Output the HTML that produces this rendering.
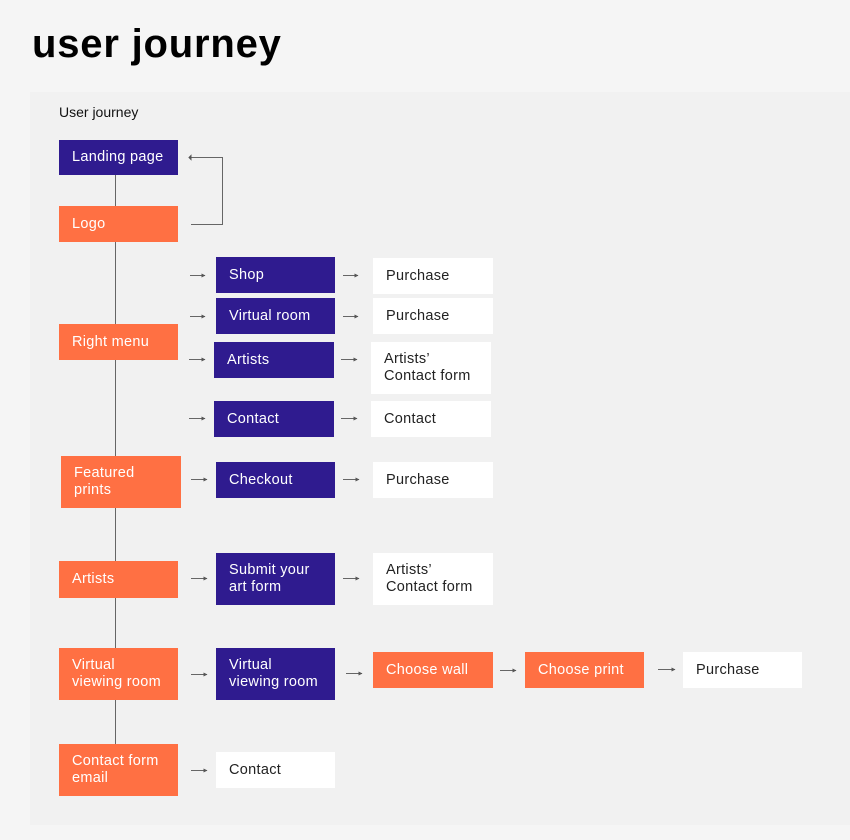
<!DOCTYPE html>
<html><head><meta charset="utf-8"><style>
body{margin:0;width:850px;height:840px;background:#f5f5f5;position:relative;overflow:hidden;font-family:"Liberation Sans",sans-serif;}
h1{position:absolute;left:32px;top:22px;margin:0;font-size:40px;font-weight:bold;color:#000;letter-spacing:0.8px;}
.panel{position:absolute;left:30px;top:92px;width:820px;height:733px;background:#f1f1f1;}
.lbl{position:absolute;left:59px;top:104px;font-size:14px;color:#111;}
.b{position:absolute;box-sizing:border-box;padding-left:13px;display:flex;align-items:center;font-size:14.5px;line-height:17px;letter-spacing:0.3px;}
.p{background:#2f1b8f;color:#fff;}
.o{background:#ff7043;color:#fff;}
.w{background:#fff;color:#222;}
svg{position:absolute;left:0;top:0;}
</style></head><body>
<h1>user journey</h1>
<div class="panel"></div>
<div class="lbl">User journey</div>
<svg width="850" height="840">
<defs><marker id="a" markerWidth="4" markerHeight="4" refX="3.5" refY="2" orient="auto" markerUnits="userSpaceOnUse"><path d="M0,0 L4,2 L0,4Z" fill="#555"/></marker></defs>
<g stroke="#666" stroke-width="1" fill="none">
<line x1="115.5" y1="175" x2="115.5" y2="745"/>
<polyline points="191,157.5 222.5,157.5 222.5,224.5 191,224.5"/>
</g>
<g stroke="#555" stroke-width="1" fill="#555">
<path d="M191 155.5 L191 159.5 L189 157.5Z"/>
</g>
<g stroke="#666" stroke-width="1" marker-end="url(#a)">
<line x1="190" y1="275.5" x2="205" y2="275.5"/><line x1="190" y1="316.5" x2="205" y2="316.5"/>
<line x1="189" y1="359.5" x2="205" y2="359.5"/><line x1="189" y1="418.5" x2="205" y2="418.5"/>
<line x1="191" y1="479.5" x2="207" y2="479.5"/><line x1="191" y1="578.5" x2="207" y2="578.5"/>
<line x1="191" y1="674.5" x2="207" y2="674.5"/><line x1="191" y1="770.5" x2="207" y2="770.5"/>
<line x1="343" y1="275.5" x2="358" y2="275.5"/><line x1="343" y1="316.5" x2="358" y2="316.5"/>
<line x1="341" y1="359.5" x2="357" y2="359.5"/><line x1="341" y1="418.5" x2="357" y2="418.5"/>
<line x1="343" y1="479.5" x2="359" y2="479.5"/><line x1="343" y1="578.5" x2="359" y2="578.5"/>
<line x1="346" y1="673.5" x2="362" y2="673.5"/><line x1="500" y1="670.5" x2="516" y2="670.5"/>
<line x1="658" y1="669.5" x2="675" y2="669.5"/>
</g>
</svg>
<div class="b p" style="left:59px;top:140px;width:119px;height:35px">Landing page</div>
<div class="b o" style="left:59px;top:206px;width:119px;height:36px">Logo</div>
<div class="b p" style="left:216px;top:257px;width:119px;height:36px">Shop</div>
<div class="b w" style="left:373px;top:258px;width:120px;height:36px">Purchase</div>
<div class="b p" style="left:216px;top:298px;width:119px;height:36px">Virtual room</div>
<div class="b w" style="left:373px;top:298px;width:120px;height:36px">Purchase</div>
<div class="b o" style="left:59px;top:324px;width:119px;height:36px">Right menu</div>
<div class="b p" style="left:214px;top:342px;width:120px;height:36px">Artists</div>
<div class="b w" style="left:371px;top:342px;width:120px;height:52px">Artists’<br>Contact form</div>
<div class="b p" style="left:214px;top:401px;width:120px;height:36px">Contact</div>
<div class="b w" style="left:371px;top:401px;width:120px;height:36px">Contact</div>
<div class="b o" style="left:61px;top:456px;width:120px;height:52px">Featured<br>prints</div>
<div class="b p" style="left:216px;top:462px;width:119px;height:36px">Checkout</div>
<div class="b w" style="left:373px;top:462px;width:120px;height:36px">Purchase</div>
<div class="b p" style="left:216px;top:553px;width:119px;height:52px">Submit your<br>art form</div>
<div class="b w" style="left:373px;top:553px;width:120px;height:52px">Artists’<br>Contact form</div>
<div class="b o" style="left:59px;top:561px;width:119px;height:37px">Artists</div>
<div class="b o" style="left:59px;top:648px;width:119px;height:52px">Virtual<br>viewing room</div>
<div class="b p" style="left:216px;top:648px;width:119px;height:52px">Virtual<br>viewing room</div>
<div class="b o" style="left:373px;top:652px;width:120px;height:36px">Choose wall</div>
<div class="b o" style="left:525px;top:652px;width:119px;height:36px">Choose print</div>
<div class="b w" style="left:683px;top:652px;width:119px;height:36px">Purchase</div>
<div class="b o" style="left:59px;top:744px;width:119px;height:52px">Contact form<br>email</div>
<div class="b w" style="left:216px;top:752px;width:119px;height:36px">Contact</div>
</body></html>
